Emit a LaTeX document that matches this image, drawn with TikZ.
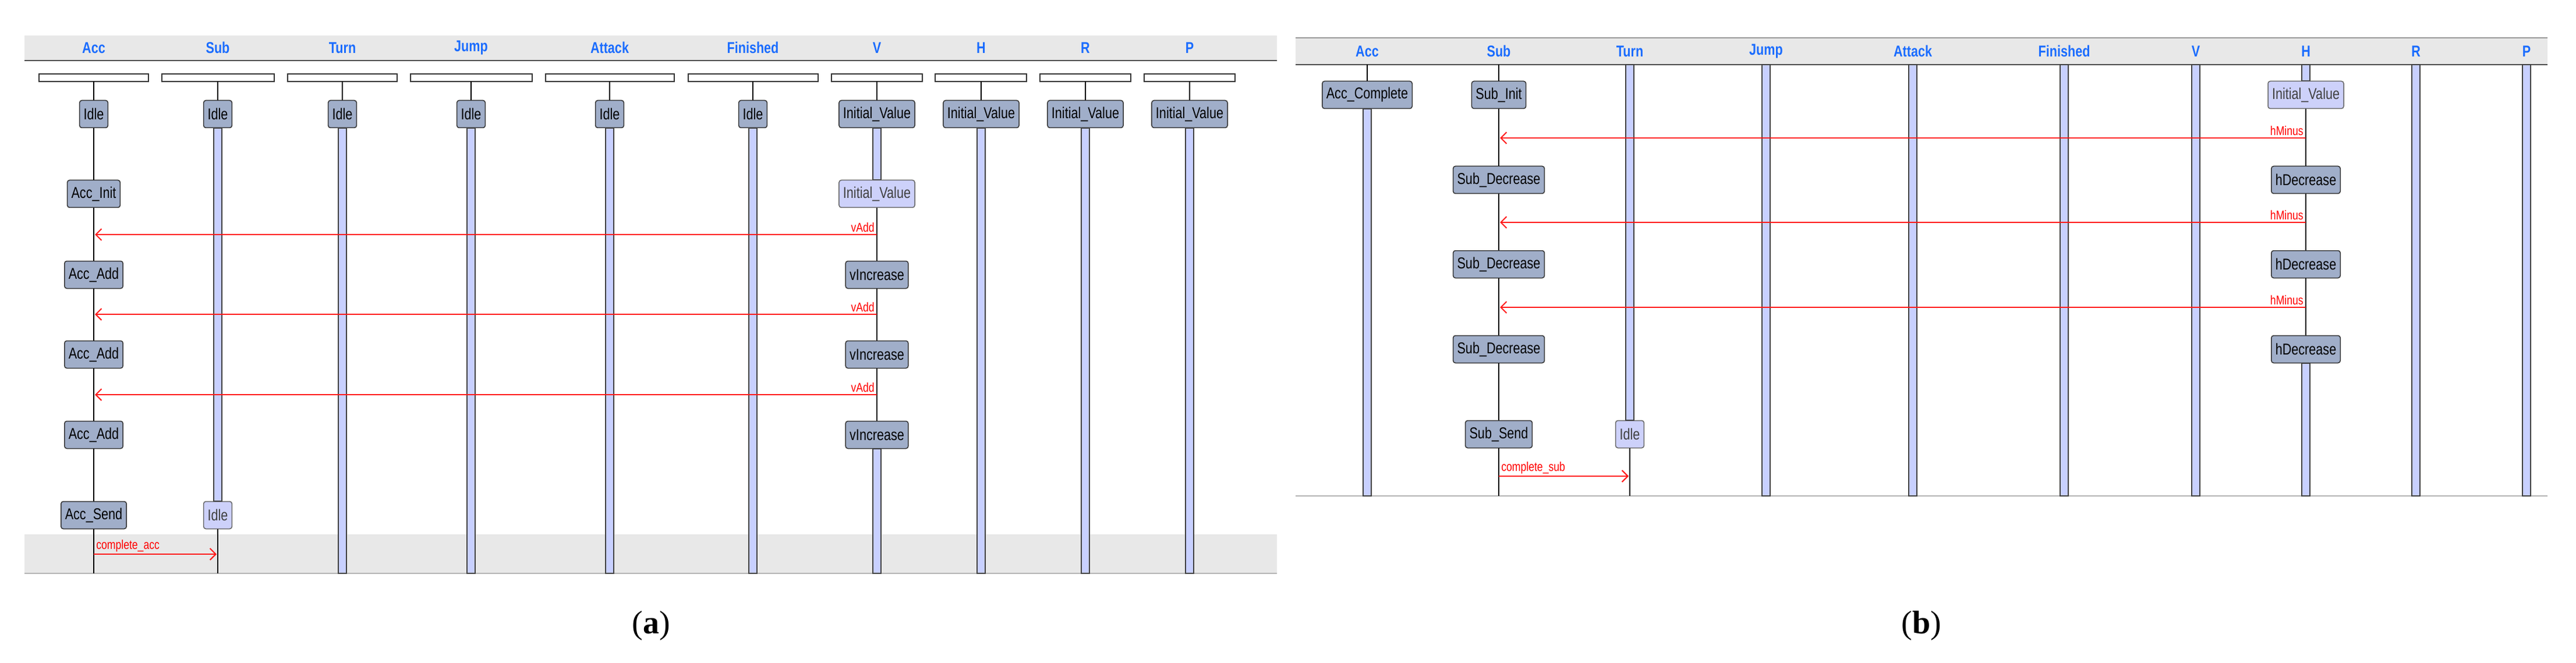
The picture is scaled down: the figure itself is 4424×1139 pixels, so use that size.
\documentclass[tikz,border=0pt]{standalone}
\usepackage{fontspec}
\setmainfont{Liberation Serif}
\newfontfamily\uifont[FakeStretch=0.8]{Liberation Sans}
\usetikzlibrary{arrows.meta,positioning,calc}
\definecolor{stdark}{RGB}{160,174,201}
\definecolor{stlight}{RGB}{205,209,250}
\definecolor{lane}{RGB}{200,208,255}
\definecolor{hdr}{RGB}{26,108,255}
\definecolor{band}{RGB}{232,232,232}
\tikzstyle{st} = [rectangle, draw=black!80, fill=stdark, rounded corners=4pt,
    line width=1.5pt, minimum height=47pt, inner xsep=7pt, font=\uifont\fontsize{27}{27}\selectfont]
\tikzstyle{lt} = [st, fill=stlight, draw=black!60, text=black!75]
\tikzstyle{hd} = [text=hdr, font=\uifont\bfseries\fontsize{27}{27}\selectfont]
\tikzstyle{bar} = [draw=black!80, fill=white, line width=1.5pt]
\tikzstyle{act} = [draw=black!75, fill=lane, line width=1.5pt]
\tikzstyle{thin} = [draw=black, line width=1.5pt]
\tikzstyle{msg} = [draw=red!90, line width=2pt, -{Straight Barb[length=10pt,width=20pt]}]
\tikzstyle{ml} = [text=red, font=\uifont\fontsize{22}{22}\selectfont]

\begin{document}
\begin{tikzpicture}[x=1pt,y=-1pt]
  \useasboundingbox (0,0) rectangle (4424,1139);

  % (a) frame
  \fill[band] (42,61) rectangle (2193,104);
  \draw[black!70,line width=2.5pt] (42,104) -- (2193,104);
  \fill[band] (42,918) rectangle (2193,985);
  \draw[black!30,line width=2pt] (42,985) -- (2193,985);

  % (a) heads, bars and first states
  \foreach \n/\x/\l/\r/\t in {Acc/161/67/255/Idle, Sub/374/278/471/Idle, Turn/588/494/682/Idle,
      Jump/809/705/914/Idle, Attack/1047/937/1158/Idle, Finished/1293/1182/1405/Idle,
      V/1506/1428/1584/Initial\_Value, H/1685/1606/1763/Initial\_Value,
      R/1864/1786/1942/Initial\_Value, P/2043/1965/2121/Initial\_Value} {
    \node[hd] (h\n) at (\x,82) {\n};
    \draw[bar] (\l,127) rectangle (\r,140);
    \coordinate (b\n) at (\x,140);
    \node[st] (s\n) at (\x,196) {\t};
    \draw[thin] (b\n) -- (s\n);
  }
  \foreach \n/\x in {Turn/588, Jump/809, Attack/1047, Finished/1293, H/1685, R/1864, P/2043} {
    \coordinate (e\n) at (\x,985);
    \draw[act] ($(s\n.south)+(-7,0)$) rectangle ($(e\n)+(7,0)$);
  }

  % (a) Acc and V
  \node[st] (aInit) at (161,333) {Acc\_Init};
  \node[st] (aAdd1) at (161,472) {Acc\_Add};
  \node[st] (aAdd2) at (161,609) {Acc\_Add};
  \node[st] (aAdd3) at (161,747) {Acc\_Add};
  \node[st] (aSend) at (161,885) {Acc\_Send};
  \node[lt] (vInit) at (1506,333) {Initial\_Value};
  \node[st] (vInc1) at (1506,472) {vIncrease};
  \node[st] (vInc2) at (1506,609) {vIncrease};
  \node[st] (vInc3) at (1506,747) {vIncrease};
  \node[lt] (sIdle) at (374,885) {Idle};
  \coordinate (eAcc) at (161,985);
  \coordinate (eSub) at (374,985);
  \coordinate (eV) at (1506,985);

  \draw[thin] (sAcc) -- (aInit) -- (aAdd1) -- (aAdd2) -- (aAdd3) -- (aSend) -- (eAcc);
  \draw[act] ($(sSub.south)+(-7,0)$) rectangle ($(sIdle.north)+(7,0)$);
  \draw[thin] (sIdle) -- (eSub);
  \draw[act] ($(sV.south)+(-7,0)$) rectangle ($(vInit.north)+(7,0)$);
  \draw[thin] (vInit) -- (vInc1) -- (vInc2) -- (vInc3);
  \draw[act] ($(vInc3.south)+(-7,0)$) rectangle ($(eV)+(7,0)$);

  \foreach \i/\y in {1/403, 2/540, 3/678} {
    \coordinate (vs\i) at (1506,\y);
    \coordinate (at\i) at (163,\y);
    \draw[msg] (vs\i) -- (at\i) node[ml, pos=0, anchor=south east] {vAdd};
  }
  \coordinate (cs) at (161,952);
  \coordinate (ct) at (372,952);
  \draw[msg] (cs) -- (ct) node[ml, pos=0, anchor=south west] {complete\_acc};

  % (b) frame
  \fill[band] (2225,65) rectangle (4375,111);
  \draw[black!40,line width=2pt] (2225,65) -- (4375,65);
  \draw[black!70,line width=2.5pt] (2225,111) -- (4375,111);
  \draw[black!30,line width=2pt] (2225,852) -- (4375,852);

  \foreach \n/\x in {Acc/2348, Sub/2574, Turn/2799, Jump/3033, Attack/3285,
      Finished/3545, V/3771, H/3960, R/4149, P/4339} {
    \node[hd] (k\n) at (\x,88) {\n};
    \coordinate (t\n) at (\x,111);
    \coordinate (f\n) at (\x,852);
  }
  \foreach \n in {Jump, Attack, Finished, V, R, P} {
    \draw[act] ($(t\n)+(-7,0)$) rectangle ($(f\n)+(7,0)$);
  }

  \node[st] (accC) at (2348,163) {Acc\_Complete};
  \node[st] (subI) at (2574,163) {Sub\_Init};
  \node[st] (subD1) at (2574,309) {Sub\_Decrease};
  \node[st] (subD2) at (2574,454) {Sub\_Decrease};
  \node[st] (subD3) at (2574,600) {Sub\_Decrease};
  \node[st] (subS) at (2574,746) {Sub\_Send};
  \node[lt] (turnI) at (2799,746) {Idle};
  \node[lt] (hInit) at (3960,163) {Initial\_Value};
  \node[st] (hDec1) at (3960,309) {hDecrease};
  \node[st] (hDec2) at (3960,454) {hDecrease};
  \node[st] (hDec3) at (3960,600) {hDecrease};

  \draw[thin] (tAcc) -- (accC);
  \draw[act] ($(accC.south)+(-7,0)$) rectangle ($(fAcc)+(7,0)$);
  \draw[thin] (tSub) -- (subI) -- (subD1) -- (subD2) -- (subD3) -- (subS) -- (fSub);
  \draw[act] ($(tTurn)+(-7,0)$) rectangle ($(turnI.north)+(7,0)$);
  \draw[thin] (turnI) -- (fTurn);
  \draw[act] ($(tH)+(-7,0)$) rectangle ($(hInit.north)+(7,0)$);
  \draw[thin] (hInit) -- (hDec1) -- (hDec2) -- (hDec3);
  \draw[act] ($(hDec3.south)+(-7,0)$) rectangle ($(fH)+(7,0)$);

  \foreach \i/\y in {1/237, 2/382, 3/528} {
    \coordinate (hs\i) at (3960,\y);
    \coordinate (st\i) at (2576,\y);
    \draw[msg] (hs\i) -- (st\i) node[ml, pos=0, anchor=south east] {hMinus};
  }
  \coordinate (ds) at (2574,818);
  \coordinate (dt) at (2797,818);
  \draw[msg] (ds) -- (dt) node[ml, pos=0, anchor=south west] {complete\_sub};

  % captions
  \node[font=\fontsize{56}{56}\selectfont] (capA) at (1118,1075) {(\textbf{a})};
  \node[font=\fontsize{56}{56}\selectfont] (capB) at (3300,1075) {(\textbf{b})};
\end{tikzpicture}
\end{document}
